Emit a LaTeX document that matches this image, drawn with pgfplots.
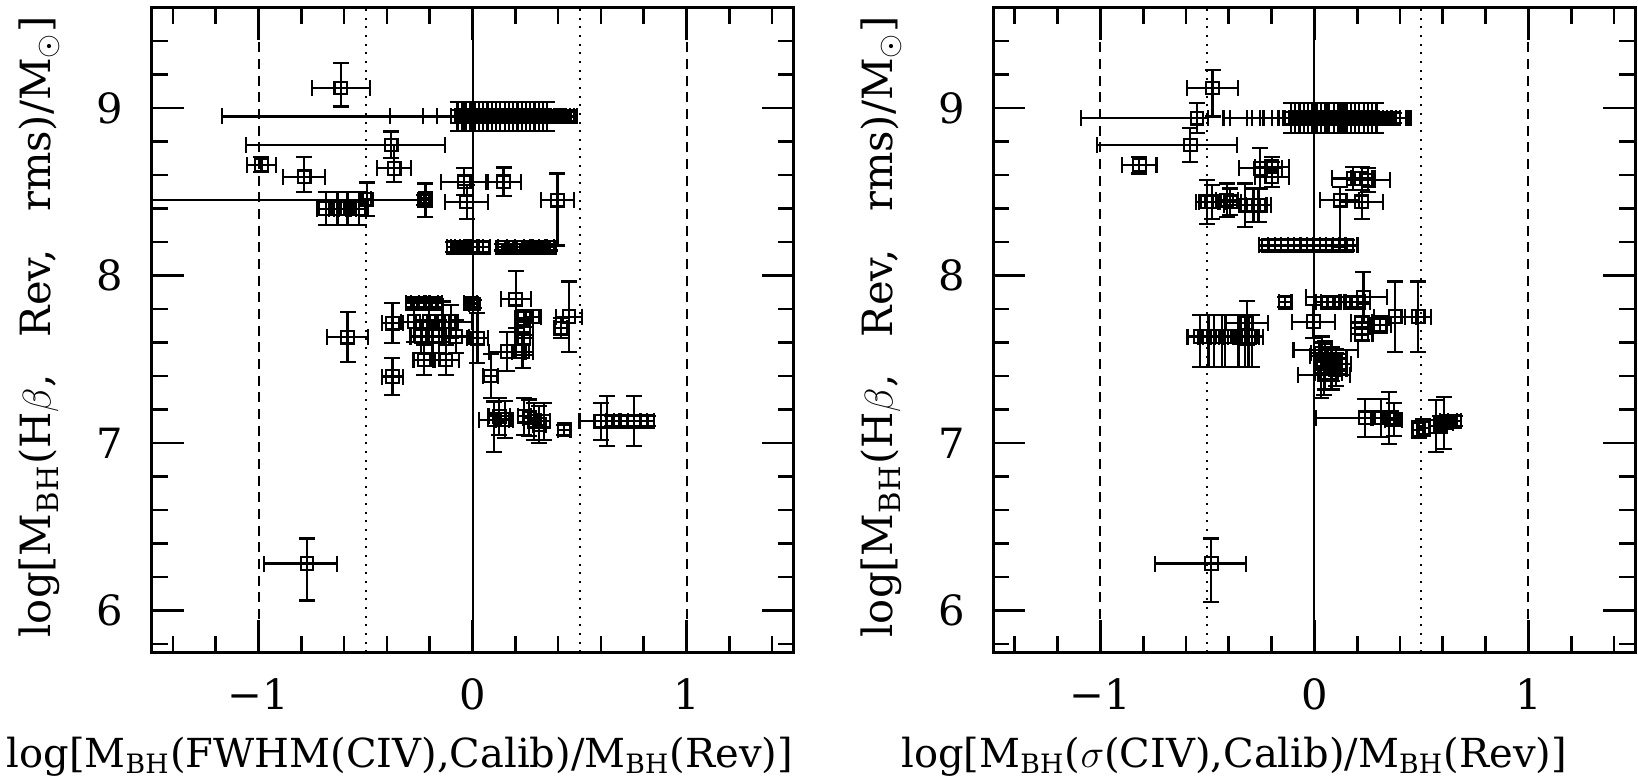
\documentclass[border=0pt]{standalone}
\usepackage{fontspec}
\setmainfont{DejaVu Serif}
\usepackage{pgfplots}
\usepackage{pgfplotstable}
\pgfplotsset{compat=1.18}

% x y xm xp ym yp
\pgfplotstableread{
x y xm xp ym yp
-0.615 9.12 0.135 0.135 0.11 0.15
-0.050 8.95 0.335 0.33 0.085 0.085
0.000 8.95 1.17 0.49 0.085 0.085
-0.070 8.95 0.16 0.16 0.085 0.085
-0.040 8.95 0.125 0.125 0.085 0.085
-0.07 8.95 0.03 0.03 0.085 0.085
-0.05 8.95 0.03 0.03 0.085 0.085
-0.03 8.95 0.03 0.03 0.085 0.085
-0.01 8.95 0.03 0.03 0.085 0.085
0.01 8.95 0.03 0.03 0.085 0.085
0.03 8.95 0.03 0.03 0.085 0.085
0.05 8.95 0.03 0.03 0.085 0.085
0.07 8.95 0.03 0.03 0.085 0.085
0.09 8.95 0.03 0.03 0.085 0.085
0.11 8.95 0.03 0.03 0.085 0.085
0.13 8.95 0.03 0.03 0.085 0.085
0.15 8.95 0.03 0.03 0.085 0.085
0.17 8.95 0.03 0.03 0.085 0.085
0.19 8.95 0.03 0.03 0.085 0.085
0.21 8.95 0.03 0.03 0.085 0.085
0.23 8.95 0.03 0.03 0.085 0.085
0.25 8.95 0.03 0.03 0.085 0.085
0.27 8.95 0.03 0.03 0.085 0.085
0.29 8.95 0.03 0.03 0.085 0.085
0.31 8.95 0.03 0.03 0.085 0.085
0.33 8.95 0.03 0.03 0.085 0.085
0.35 8.95 0.03 0.03 0.085 0.085
0.37 8.95 0.025 0.025 0.03 0.03
0.39 8.95 0.025 0.025 0.03 0.03
0.41 8.95 0.025 0.025 0.03 0.03
0.43 8.95 0.025 0.025 0.03 0.03
0.45 8.95 0.025 0.025 0.03 0.03
-0.380 8.78 0.68 0.25 0.08 0.08
-0.366 8.64 0.08 0.08 0.08 0.14
-0.986 8.66 0.066 0.066 0.04 0.05
-0.787 8.59 0.097 0.097 0.09 0.12
-0.220 8.45 2.0 0.02 0.10 0.10
-0.220 8.46 0.02 0.02 0.03 0.03
-0.225 8.45 0.02 0.02 0.03 0.03
-0.686 8.40 0.04 0.04 0.10 0.10
-0.631 8.40 0.04 0.04 0.10 0.10
-0.584 8.40 0.04 0.04 0.10 0.10
-0.530 8.40 0.04 0.04 0.10 0.10
-0.494 8.456 0.02 0.02 0.10 0.10
-0.039 8.56 0.11 0.11 0.08 0.08
-0.027 8.44 0.10 0.10 0.10 0.10
0.145 8.56 0.08 0.08 0.085 0.085
0.397 8.45 0.078 0.078 0.27 0.16
-0.09 8.17 0.03 0.03 0.03 0.03
-0.07 8.17 0.03 0.03 0.03 0.03
-0.05 8.17 0.03 0.03 0.03 0.03
-0.03 8.17 0.03 0.03 0.03 0.03
0.00 8.17 0.03 0.03 0.03 0.03
0.02 8.17 0.03 0.03 0.03 0.03
0.05 8.17 0.03 0.03 0.03 0.03
0.14 8.17 0.02 0.02 0.02 0.02
0.18 8.17 0.02 0.02 0.02 0.02
0.22 8.17 0.02 0.02 0.02 0.02
0.26 8.17 0.02 0.02 0.02 0.02
0.29 8.17 0.02 0.02 0.02 0.02
0.33 8.17 0.02 0.02 0.02 0.02
0.36 8.17 0.02 0.02 0.02 0.02
-0.280 7.835 0.03 0.03 0.025 0.025
-0.257 7.835 0.03 0.03 0.025 0.025
-0.190 7.835 0.03 0.03 0.025 0.025
-0.171 7.835 0.03 0.03 0.025 0.025
-0.008 7.835 0.03 0.03 0.025 0.025
0.005 7.830 0.02 0.02 0.025 0.025
0.202 7.859 0.07 0.07 0.17 0.17
-0.374 7.716 0.05 0.05 0.12 0.12
-0.273 7.725 0.06 0.06 0.12 0.12
-0.203 7.725 0.06 0.06 0.12 0.12
-0.140 7.725 0.06 0.06 0.12 0.12
-0.100 7.725 0.06 0.10 0.10 0.10
-0.240 7.636 0.05 0.05 0.10 0.10
-0.187 7.636 0.05 0.05 0.10 0.10
-0.156 7.636 0.05 0.05 0.10 0.10
-0.078 7.636 0.06 0.06 0.10 0.10
0.023 7.626 0.05 0.05 0.15 0.15
-0.226 7.496 0.05 0.05 0.09 0.09
-0.125 7.496 0.06 0.06 0.09 0.09
-0.374 7.397 0.05 0.05 0.11 0.11
0.085 7.400 0.035 0.035 0.13 0.13
0.163 7.546 0.085 0.085 0.115 0.115
0.234 7.546 0.05 0.05 0.10 0.10
0.241 7.626 0.04 0.04 0.10 0.10
0.241 7.695 0.04 0.04 0.05 0.05
0.241 7.745 0.04 0.04 0.05 0.05
0.280 7.755 0.04 0.04 0.04 0.04
0.451 7.755 0.06 0.06 0.21 0.21
0.413 7.686 0.03 0.03 0.06 0.06
-0.584 7.632 0.094 0.094 0.15 0.15
0.101 7.138 0.07 0.07 0.19 0.11
0.125 7.160 0.05 0.05 0.11 0.11
0.150 7.140 0.04 0.04 0.11 0.11
0.241 7.160 0.03 0.03 0.11 0.11
0.264 7.150 0.03 0.03 0.11 0.11
0.288 7.130 0.03 0.03 0.11 0.11
0.311 7.110 0.03 0.03 0.11 0.11
0.334 7.130 0.03 0.03 0.11 0.11
0.428 7.080 0.03 0.03 0.03 0.03
0.600 7.130 0.10 0.03 0.11 0.11
0.630 7.130 0.03 0.03 0.15 0.15
0.654 7.130 0.03 0.03 0.03 0.03
0.724 7.130 0.03 0.03 0.03 0.03
0.755 7.130 0.03 0.03 0.15 0.15
0.786 7.130 0.03 0.03 0.03 0.03
0.818 7.130 0.03 0.03 0.03 0.03
-0.773 6.28 0.20 0.14 0.22 0.15
}\fwhmtab

\pgfplotstableread{
x y xm xp ym yp
-0.476 9.12 0.12 0.12 0.17 0.11
-0.549 8.94 0.54 0.05 0.09 0.09
0.00 8.94 0.425 0.43 0.09 0.09
0.03 8.94 0.423 0.42 0.09 0.09
0.06 8.94 0.375 0.38 0.09 0.09
0.09 8.94 0.382 0.34 0.09 0.09
0.12 8.94 0.373 0.32 0.09 0.09
0.14 8.94 0.378 0.30 0.09 0.09
0.17 8.94 0.369 0.26 0.09 0.09
0.19 8.94 0.358 0.24 0.09 0.09
0.21 8.94 0.355 0.22 0.09 0.09
-0.11 8.94 0.03 0.03 0.09 0.09
-0.09 8.94 0.03 0.03 0.09 0.09
-0.07 8.94 0.03 0.03 0.09 0.09
-0.05 8.94 0.03 0.03 0.09 0.09
-0.03 8.94 0.03 0.03 0.09 0.09
-0.01 8.94 0.03 0.03 0.09 0.09
0.01 8.94 0.03 0.03 0.09 0.09
0.03 8.94 0.03 0.03 0.09 0.09
0.05 8.94 0.03 0.03 0.09 0.09
0.07 8.94 0.03 0.03 0.09 0.09
0.09 8.94 0.03 0.03 0.09 0.09
0.11 8.94 0.03 0.03 0.09 0.09
0.13 8.94 0.03 0.03 0.09 0.09
0.15 8.94 0.03 0.03 0.09 0.09
0.17 8.94 0.03 0.03 0.09 0.09
0.19 8.94 0.03 0.03 0.09 0.09
0.21 8.94 0.03 0.03 0.09 0.09
0.23 8.94 0.03 0.03 0.09 0.09
0.25 8.94 0.03 0.03 0.09 0.09
0.27 8.94 0.03 0.03 0.09 0.09
0.29 8.94 0.03 0.03 0.09 0.09
0.31 8.94 0.03 0.03 0.03 0.03
0.33 8.94 0.03 0.03 0.03 0.03
0.35 8.94 0.03 0.03 0.03 0.03
0.37 8.94 0.03 0.03 0.03 0.03
-0.580 8.78 0.435 0.218 0.10 0.10
-0.818 8.66 0.08 0.08 0.05 0.05
-0.253 8.64 0.10 0.10 0.12 0.12
-0.199 8.65 0.08 0.08 0.06 0.06
-0.199 8.59 0.08 0.08 0.06 0.09
-0.502 8.44 0.05 0.05 0.13 0.13
-0.479 8.44 0.06 0.06 0.10 0.10
-0.409 8.45 0.05 0.05 0.10 0.10
-0.393 8.44 0.05 0.05 0.08 0.08
-0.323 8.42 0.10 0.10 0.13 0.13
-0.285 8.42 0.06 0.06 0.10 0.10
-0.261 8.42 0.06 0.06 0.10 0.10
0.120 8.45 0.093 0.09 0.28 0.08
0.221 8.44 0.10 0.10 0.10 0.10
0.182 8.58 0.10 0.10 0.07 0.07
0.221 8.58 0.05 0.05 0.07 0.07
0.252 8.57 0.10 0.10 0.07 0.07
-0.215 8.18 0.045 0.03 0.03 0.03
-0.185 8.18 0.03 0.03 0.03 0.03
-0.155 8.18 0.03 0.03 0.03 0.03
-0.125 8.18 0.03 0.03 0.03 0.03
-0.095 8.18 0.03 0.03 0.03 0.03
-0.065 8.18 0.03 0.03 0.03 0.03
-0.035 8.18 0.03 0.03 0.03 0.03
-0.005 8.18 0.03 0.03 0.03 0.03
0.025 8.18 0.03 0.03 0.03 0.03
0.055 8.18 0.03 0.03 0.03 0.03
0.085 8.18 0.03 0.03 0.03 0.03
0.115 8.18 0.03 0.03 0.03 0.03
0.151 8.18 0.03 0.05 0.03 0.03
-0.137 7.84 0.03 0.03 0.03 0.03
0.065 7.84 0.06 0.06 0.03 0.03
0.089 7.84 0.06 0.06 0.03 0.03
0.175 7.84 0.06 0.06 0.03 0.03
0.198 7.84 0.06 0.06 0.03 0.03
0.229 7.87 0.27 0.11 0.15 0.15
-0.005 7.725 0.10 0.10 0.10 0.10
0.221 7.686 0.05 0.05 0.07 0.07
0.221 7.720 0.05 0.05 0.04 0.04
0.221 7.650 0.05 0.05 0.04 0.04
0.307 7.706 0.05 0.05 0.05 0.05
0.377 7.755 0.10 0.10 0.21 0.21
0.485 7.755 0.06 0.06 0.21 0.21
-0.533 7.636 0.06 0.05 0.18 0.13
-0.495 7.636 0.05 0.05 0.18 0.13
-0.471 7.636 0.05 0.05 0.18 0.13
-0.432 7.636 0.05 0.05 0.18 0.13
-0.417 7.636 0.05 0.05 0.18 0.13
-0.355 7.636 0.05 0.05 0.18 0.13
-0.323 7.636 0.05 0.05 0.18 0.13
-0.308 7.636 0.05 0.05 0.18 0.13
-0.292 7.636 0.05 0.05 0.18 0.13
-0.315 7.716 0.10 0.10 0.13 0.13
0.034 7.536 0.05 0.05 0.10 0.10
0.050 7.556 0.148 0.155 0.05 0.05
0.060 7.490 0.05 0.05 0.08 0.08
0.080 7.470 0.05 0.05 0.10 0.10
0.100 7.500 0.05 0.05 0.06 0.06
0.120 7.470 0.05 0.05 0.06 0.06
0.046 7.407 0.121 0.121 0.12 0.12
0.050 7.420 0.05 0.05 0.10 0.10
0.080 7.420 0.05 0.05 0.10 0.10
0.100 7.440 0.05 0.05 0.10 0.10
0.030 7.520 0.05 0.05 0.25 0.08
0.236 7.150 0.23 0.03 0.115 0.115
0.311 7.150 0.04 0.04 0.115 0.115
0.350 7.150 0.04 0.04 0.155 0.155
0.370 7.140 0.04 0.04 0.10 0.10
0.488 7.080 0.03 0.03 0.05 0.05
0.508 7.090 0.03 0.03 0.05 0.05
0.567 7.100 0.03 0.03 0.155 0.155
0.587 7.110 0.03 0.03 0.05 0.05
0.606 7.120 0.04 0.04 0.155 0.155
0.626 7.130 0.04 0.04 0.03 0.03
0.656 7.130 0.03 0.03 0.03 0.03
-0.482 6.28 0.264 0.163 0.23 0.15
}\sigmatab

\pgfplotsset{
  rmpanel/.style={
    scale only axis, width=192.6pt, height=193.4pt,
    xmin=-1.5, xmax=1.5, ymin=5.75, ymax=9.6,
    xtick={-1,0,1}, xticklabels={−1,0,1},
    ytick={6,7,8,9}, yticklabels={6,7,8,9},
    minor xtick={-1.4,-1.2,...,1.45},
    minor ytick={5.8,6,...,9.45},
    tick align=inside,
    major tick length=9.6pt, minor tick length=4.8pt,
    every tick/.style={black, line width=0.8pt},
    axis line style={line width=0.9pt},
    axis on top,
    tick label style={font=\fontsize{12.5}{14}\selectfont},
    xticklabel style={yshift=-4.4pt},
    yticklabel style={xshift=-5pt},
    every axis y label/.style={at={(axis description cs:-0.157,0.505)}, rotate=90, anchor=base, font=\fontsize{12.5}{14}\selectfont},
    every axis x label/.style={anchor=base, font=\fontsize{12}{14}\selectfont},
    ylabel={log[M\textsubscript{BH}(H$\beta$,\hspace{0.9em}Rev,\hspace{0.9em}rms)/M$_\odot$]},
  },
  refline/.style={no markers, line width=0.6pt, black},
  pts/.style={only marks, mark=square, mark size=1.9pt, black,
    mark options={line width=0.65pt, solid},
    error bars/.cd, x dir=both, x explicit, y dir=both, y explicit,
    error mark=-,
    error bar style={line width=0.65pt, black},
    error mark options={rotate=90, line width=0.65pt, mark size=2.4pt, black}},
}

\begin{document}
\begin{tikzpicture}
\useasboundingbox (-45.45pt,-38.9pt) rectangle (445.95pt,195.7pt);

\begin{axis}[rmpanel, at={(0pt,0pt)}, anchor=south west,
  xlabel={log[M\textsubscript{BH}(FWHM(CIV),Calib)/M\textsubscript{BH}(Rev)]},
  xlabel style={at={(axis description cs:0.387,-0.178)}}]
\addplot[refline] coordinates {(0,5.75) (0,9.6)};
\addplot[refline, dotted] coordinates {(-0.5,5.75) (-0.5,9.6)};
\addplot[refline, dotted] coordinates {(0.5,5.75) (0.5,9.6)};
\addplot[refline, dash pattern=on 3pt off 2pt] coordinates {(-1,5.75) (-1,9.6)};
\addplot[refline, dash pattern=on 3pt off 2pt] coordinates {(1,5.75) (1,9.6)};
\addplot[pts] table[x=x, y=y, x error minus=xm, x error plus=xp, y error minus=ym, y error plus=yp] {\fwhmtab};
\end{axis}

\begin{axis}[rmpanel, at={(252.57pt,0pt)}, anchor=south west,
  xlabel={log[M\textsubscript{BH}($\sigma$(CIV),Calib)/M\textsubscript{BH}(Rev)]},
  xlabel style={at={(axis description cs:0.375,-0.178)}}]
\addplot[refline] coordinates {(0,5.75) (0,9.6)};
\addplot[refline, dotted] coordinates {(-0.5,5.75) (-0.5,9.6)};
\addplot[refline, dotted] coordinates {(0.5,5.75) (0.5,9.6)};
\addplot[refline, dash pattern=on 3pt off 2pt] coordinates {(-1,5.75) (-1,9.6)};
\addplot[refline, dash pattern=on 3pt off 2pt] coordinates {(1,5.75) (1,9.6)};
\addplot[pts] table[x=x, y=y, x error minus=xm, x error plus=xp, y error minus=ym, y error plus=yp] {\sigmatab};
\end{axis}
\end{tikzpicture}
\end{document}
